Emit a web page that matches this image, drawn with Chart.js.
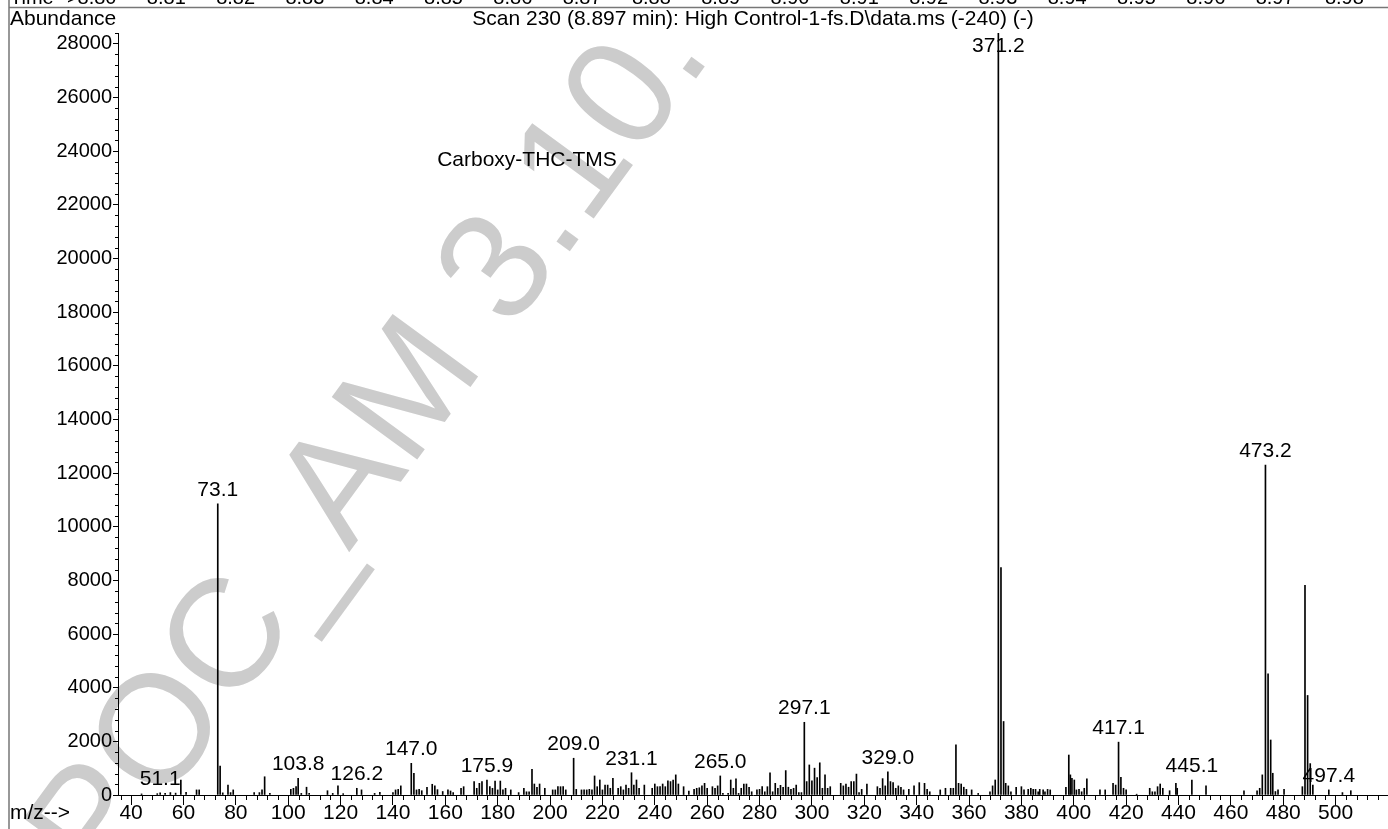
<!DOCTYPE html>
<html>
<head>
<meta charset="utf-8">
<script src="https://cdn.jsdelivr.net/npm/chart.js@4.4.1/dist/chart.umd.min.js"></script>
<style>
  html, body { margin: 0; padding: 0; background: #fff; }
  canvas { display: block; }
</style>
</head>
<body>
<canvas id="spectrum" width="1388" height="829"></canvas>
<script>
// m/z and abundance of every line in the spectrum
const mzValues = [
  44, 50, 51.1, 53, 55, 57, 59, 61, 65, 66, 73.1, 74, 75, 77, 78, 79, 87, 89, 90, 91, 93,
  101, 102, 103, 103.8, 105, 107, 108, 115, 117, 119, 121, 126.2, 128, 133, 135, 140, 141, 142, 143,
  147.0, 148, 149, 150, 151, 153, 155, 156, 157, 159, 161, 162, 163, 166, 167, 171, 172, 173, 174, 175.9,
  177, 178, 179, 180, 181, 182, 183, 185, 188, 190, 191, 192, 193.1, 194, 195, 196, 198,
  201, 202, 203, 204, 205, 206, 209.0, 210, 212, 213, 214, 215, 216, 217, 218, 219, 220, 221, 222, 223, 224,
  226, 227, 228, 229, 230, 231.1, 232, 233, 234, 236, 239, 240, 241, 242, 243, 244, 245, 246, 247, 248, 249,
  251, 253, 255, 256, 257, 258, 259, 260, 262, 263, 264, 265.0, 266, 268, 269, 270, 271, 272, 273, 274, 275,
  276, 277, 279, 280, 281, 282, 283, 284, 285, 286, 287, 288, 289, 290, 291, 292, 293, 294, 295, 296, 297.1,
  298, 299, 300, 301, 302, 303, 304, 305, 306, 307, 311, 312, 313, 314, 315, 316, 317, 318, 319, 321,
  325, 326, 327, 328, 329.0, 330, 331, 332, 333, 334, 335, 337, 339, 341, 343, 344, 345, 349, 351, 353, 354,
  355, 356, 357, 358, 359, 361, 363.5, 368, 369, 370, 371.2, 372.2, 373.2, 374, 375, 376, 378, 380, 381,
  382.6, 383.6, 384.5, 385.4, 386.4, 387, 388.3, 389, 390, 391, 397, 398.1, 398.7, 399.3, 400.2, 401, 402, 403,
  404, 405, 410, 412, 415, 416, 417.1, 418, 419, 420, 424, 429, 430, 431, 432, 433, 434, 436.6, 439, 439.5,
  445.1, 450.5, 465, 470, 471, 472, 473.2, 474.2, 475.2, 476, 477, 478, 480.3, 487.3, 488.3, 489.3, 490.3,
  491.3, 497.4, 502.6, 505.8
]
const abundances = [
  40, 50, 80, 60, 90, 70, 560, 100, 190, 190, 10850, 1080, 80, 370, 90, 190, 90, 90, 190, 680, 60,
  210, 250, 310, 620, 60, 290, 60, 160, 60, 340, 50, 250, 190, 60, 100, 90, 190, 210, 340,
  1180, 810, 190, 210, 160, 290, 400, 340, 200, 130, 190, 150, 90, 250, 310, 500, 250, 435, 500, 560,
  310, 250, 520, 190, 520, 190, 250, 190, 90, 250, 120, 120, 960, 410, 290, 410, 250,
  190, 190, 310, 310, 310, 190, 1370, 210, 190, 190, 190, 210, 190, 710, 310, 560, 190, 370, 370, 250, 620,
  250, 310, 190, 370, 250, 830, 370, 560, 250, 370, 250, 410, 310, 310, 410, 310, 530, 500, 560, 750, 410,
  310, 150, 210, 250, 270, 340, 435, 250, 310, 250, 340, 710, 60, 60, 560, 250, 600, 60, 250, 410, 410,
  290, 120, 190, 210, 310, 120, 310, 830, 120, 435, 250, 360, 290, 910, 290, 210, 250, 370, 90, 90, 2710,
  500, 1120, 530, 1000, 650, 1200, 250, 750, 250, 310, 435, 340, 410, 290, 500, 500, 780, 90, 210, 410,
  310, 250, 610, 340, 860, 500, 460, 250, 340, 290, 190, 210, 340, 460, 435, 210, 120, 190, 250, 250, 250,
  1870, 435, 410, 290, 210, 190, 60, 120, 340, 560, 28400, 8480, 2740, 435, 340, 120, 290, 310, 190,
  210, 250, 210, 210, 120, 210, 190, 120, 210, 190, 290, 1490, 750, 620, 560, 190, 210, 120,
  250, 600, 190, 190, 435, 370, 1970, 660, 250, 190, 30, 250, 120, 120, 310, 410, 250, 160, 435, 250,
  560, 340, 160, 160, 250, 750, 12300, 4520, 2050, 810, 130, 190, 210, 310, 7810, 3710, 1170,
  370, 190, 90, 160
]
// peaks that carry an m/z label
const labeledPeaks = [51.1, 73.1, 103.8, 126.2, 147.0, 175.9, 209.0, 231.1, 265.0, 297.1, 329.0, 371.2, 417.1, 445.1, 473.2, 497.4]
const xTickValues = [40, 60, 80, 100, 120, 140, 160, 180, 200, 220, 240, 260, 280, 300, 320, 340, 360, 380, 400, 420, 440, 460, 480, 500]
const yTickValues = [0, 2000, 4000, 6000, 8000, 10000, 12000, 14000, 16000, 18000, 20000, 22000, 24000, 26000, 28000]
const timeLabels = ['8.80', '8.81', '8.82', '8.83', '8.84', '8.85', '8.86', '8.87', '8.88', '8.89',
  '8.90', '8.91', '8.92', '8.93', '8.94', '8.95', '8.96', '8.97', '8.98', '8.99']

const FONT = '"Liberation Sans", Arial, Helvetica, sans-serif'
const TITLE = 'Scan 230 (8.897 min): High Control-1-fs.D\\data.ms (-240) (-)'
const COMPOUND = 'Carboxy-THC-TMS'

// watermark, page frame and the cut off time strip go under everything
const backdrop = {
  id: 'backdrop',
  beforeDraw(chart) {
    const ctx = chart.ctx
    ctx.save()
    ctx.fillStyle = '#fff'
    ctx.fillRect(0, 0, chart.width, chart.height)

    ctx.translate(373, 448)
    ctx.rotate(-53.8 * Math.PI / 180)
    ctx.font = '154px ' + FONT
    ctx.fillStyle = '#cccccc'
    ctx.textAlign = 'center'
    ctx.textBaseline = 'middle'
    ctx.fillText('POC_AM 3.10.', 0, 0)
    ctx.restore()

    ctx.save()
    ctx.strokeStyle = '#777'
    ctx.lineWidth = 1.5
    ctx.beginPath()
    ctx.moveTo(9, 0); ctx.lineTo(9, chart.height)
    ctx.moveTo(9, 7.5); ctx.lineTo(chart.width, 7.5)
    ctx.stroke()

    // only the lower edge of the retention time strip is on the page
    ctx.fillStyle = '#000'
    ctx.font = '20px ' + FONT
    ctx.textBaseline = 'alphabetic'
    ctx.textAlign = 'left'
    ctx.fillText('Time-->', 10, 4)
    ctx.textAlign = 'center'
    timeLabels.forEach((t, i) => ctx.fillText(t, 97 + i * 69.3, 4))
    ctx.restore()
  }
}

// minor ticks, texts and peak labels on top
const annotations = {
  id: 'annotations',
  afterDraw(chart) {
    const ctx = chart.ctx
    const xs = chart.scales.x
    const ys = chart.scales.y
    const base = ys.getPixelForValue(0)
    const left = xs.left
    ctx.save()
    ctx.strokeStyle = '#000'
    ctx.lineWidth = 1
    ctx.beginPath()
    for (let v = 36; v <= xs.max; v += 4) {
      if (v % 20 === 0) continue
      const px = Math.round(xs.getPixelForValue(v)) + 0.5
      ctx.moveTo(px, base); ctx.lineTo(px, base + 5)
    }
    for (let v = 400; v <= ys.max; v += 400) {
      if (v % 2000 === 0) continue
      const py = Math.round(ys.getPixelForValue(v)) + 0.5
      ctx.moveTo(left, py); ctx.lineTo(left - 3, py)
    }
    ctx.stroke()

    ctx.fillStyle = '#000'
    ctx.font = '21px ' + FONT
    ctx.textBaseline = 'middle'
    ctx.textAlign = 'left'
    ctx.fillText('Abundance', 10, 19)
    ctx.fillText('m/z-->', 10, 813)
    ctx.textAlign = 'center'
    ctx.fillText(TITLE, (xs.left + xs.right) / 2, 19)
    ctx.fillText(COMPOUND, 527, 160)

    labeledPeaks.forEach(m => {
      const i = mzValues.indexOf(m)
      const px = xs.getPixelForValue(m)
      const py = Math.max(ys.getPixelForValue(abundances[i]) - 14, 46)
      ctx.fillText(m.toFixed(1), px, py)
    })
    ctx.restore()
  }
}

new Chart(document.getElementById('spectrum'), {
  type: 'bar',
  data: {
    datasets: [{
      data: mzValues.map((m, i) => ({ x: m, y: abundances[i] })),
      backgroundColor: '#000',
      borderWidth: 0,
      barThickness: 1,
      grouped: false
    }]
  },
  options: {
    responsive: false,
    devicePixelRatio: 1,
    animation: false,
    layout: { padding: { left: 0, top: 33, right: 0, bottom: 0 } },
    plugins: {
      legend: { display: false },
      tooltip: { enabled: false }
    },
    scales: {
      x: {
        type: 'linear',
        min: 35,
        max: 520,
        offset: false,
        afterBuildTicks: scale => { scale.ticks = xTickValues.map(v => ({ value: v })) },
        afterFit: scale => { scale.height = 34 },
        ticks: { font: { family: FONT, size: 21 }, color: '#000', padding: -4, maxRotation: 0, autoSkip: false, callback: v => String(v) },
        grid: { offset: false, drawOnChartArea: false, tickLength: 10, tickColor: '#000' },
        border: { color: '#000', width: 1 }
      },
      y: {
        min: 0,
        max: 28400,
        afterBuildTicks: scale => { scale.ticks = yTickValues.map(v => ({ value: v })) },
        afterFit: scale => { scale.width = 118 },
        ticks: { font: { family: FONT, size: 20 }, color: '#000', padding: 1, callback: v => String(v) },
        grid: { drawOnChartArea: false, tickLength: 5, tickColor: '#000' },
        border: { color: '#000', width: 1 }
      }
    }
  },
  plugins: [backdrop, annotations]
})
</script>
</body>
</html>
